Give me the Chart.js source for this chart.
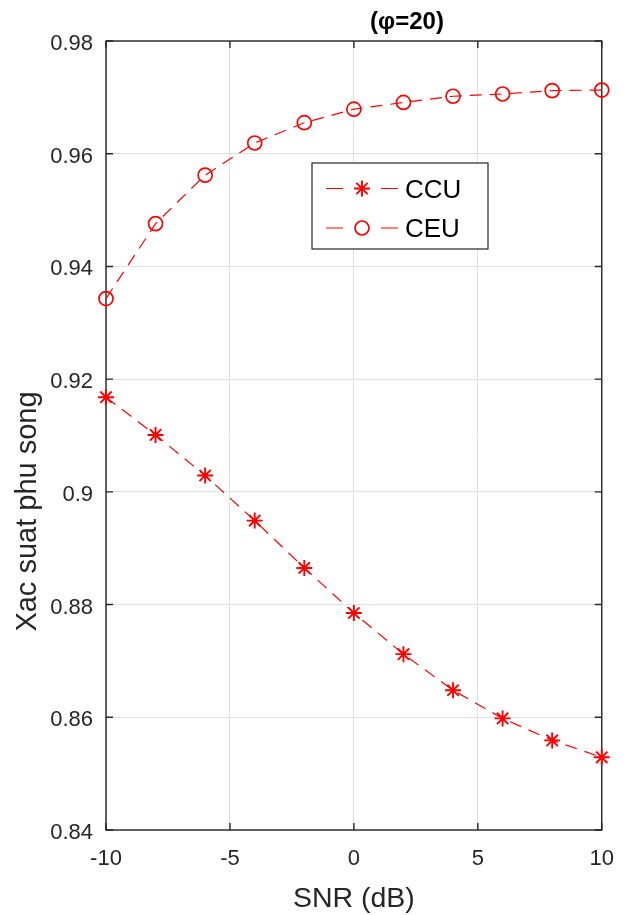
<!DOCTYPE html>
<html lang="vi">
<head>
<meta charset="UTF-8">
<title>Xac suat phu song</title>
<script src="https://cdn.jsdelivr.net/npm/chart.js@4.4.0/dist/chart.umd.min.js"></script>
<style>
  html, body { margin: 0; padding: 0; background: #fff; }
</style>
</head>
<body>
<canvas id="myChart" width="630" height="915"></canvas>

<script>
    // data
    var snr = [-10, -8, -6, -4, -2, 0, 2, 4, 6, 8, 10];
    var ccu = [0.9168, 0.9101, 0.9029, 0.8949, 0.8865, 0.8785, 0.8712, 0.8648, 0.8598, 0.8559, 0.8529];
    var ceu = [0.9343, 0.9476, 0.9562, 0.9619, 0.9655, 0.9679, 0.9691, 0.9702, 0.9706, 0.9712, 0.9713];
    var xTicks = [-10, -5, 0, 5, 10];
    var yTicks = [0.84, 0.86, 0.88, 0.90, 0.92, 0.94, 0.96, 0.98];
    var seriesNames = ['CCU', 'CEU'];
    var titleText = '(\u03C6=20)';
    var xTitle = 'SNR (dB)';
    var yTitle = 'Xac suat phu song';

    var FONT = '"Liberation Sans", Arial, sans-serif';
    var AXIS = '#262626';
    var RED = '#ff0000';

    function pts(ys) {
        return snr.map(function (x, i) { return { x: x, y: ys[i] }; });
    }

    function drawMarker(ctx, style, x, y, r) {
        ctx.beginPath();
        if (style === 'circle') {
            ctx.arc(x, y, r, 0, Math.PI * 2);
        } else {
            for (var k = 0; k < 4; k++) {
                var a = k * Math.PI / 4;
                ctx.moveTo(x - r * Math.cos(a), y - r * Math.sin(a));
                ctx.lineTo(x + r * Math.cos(a), y + r * Math.sin(a));
            }
        }
        ctx.stroke();
    }

    var matlabLook = {
        id: 'matlabLook',
        beforeDatasetsDraw: function (chart) {
            var ctx = chart.ctx, a = chart.chartArea;
            var xs = chart.scales.x, ys = chart.scales.y;
            ctx.save();
            ctx.strokeStyle = AXIS;
            ctx.lineWidth = 1.4;
            ctx.strokeRect(a.left, a.top, a.right - a.left, a.bottom - a.top);
            ctx.beginPath();
            xTicks.forEach(function (v) {
                var px = xs.getPixelForValue(v);
                ctx.moveTo(px, a.bottom); ctx.lineTo(px, a.bottom - 7);
                ctx.moveTo(px, a.top); ctx.lineTo(px, a.top + 7);
            });
            yTicks.forEach(function (v) {
                var py = ys.getPixelForValue(v);
                ctx.moveTo(a.left, py); ctx.lineTo(a.left + 7, py);
                ctx.moveTo(a.right, py); ctx.lineTo(a.right - 7, py);
            });
            ctx.stroke();
            ctx.restore();
        },
        afterDraw: function (chart) {
            var ctx = chart.ctx, a = chart.chartArea;
            ctx.save();

            // title
            ctx.fillStyle = '#000';
            ctx.font = 'bold 24px ' + FONT;
            ctx.textAlign = 'center';
            ctx.textBaseline = 'middle';
            ctx.fillText(titleText, 407, 22);

            // axis titles
            ctx.fillStyle = AXIS;
            ctx.font = '28.5px ' + FONT;
            ctx.textBaseline = 'alphabetic';
            ctx.fillText(xTitle, (a.left + a.right) / 2, 907);

            ctx.save();
            ctx.translate(35.5, 511.5);
            ctx.rotate(-Math.PI / 2);
            ctx.font = '29px ' + FONT;
            ctx.fillText(yTitle, 0, 0);
            ctx.restore();

            // legend
            var lx = 312, ly = 163, lw = 176, lh = 86;
            ctx.fillStyle = '#fff';
            ctx.fillRect(lx, ly, lw, lh);
            ctx.strokeStyle = AXIS;
            ctx.lineWidth = 1.2;
            ctx.strokeRect(lx, ly, lw, lh);

            var rows = [188.5, 228];
            chart.data.datasets.forEach(function (ds, i) {
                var y = rows[i];
                ctx.strokeStyle = ds.borderColor;
                ctx.lineWidth = ds.borderWidth;
                ctx.setLineDash([17, 38]);
                ctx.beginPath();
                ctx.moveTo(326, y); ctx.lineTo(398, y);
                ctx.stroke();
                ctx.setLineDash([]);
                ctx.lineWidth = ds.pointBorderWidth;
                drawMarker(ctx, ds.pointStyle, 362, y, ds.pointRadius);
                ctx.fillStyle = '#000';
                ctx.font = '26px ' + FONT;
                ctx.textAlign = 'left';
                ctx.textBaseline = 'middle';
                ctx.fillText(ds.label, 405, y + 2);
            });
            ctx.restore();
        }
    };

    var ctx = document.getElementById('myChart').getContext('2d');
    var chart = new Chart(ctx, {
        type: 'line',
        data: {
            datasets: [{
                label: seriesNames[0],
                data: pts(ccu),
                borderColor: RED,
                backgroundColor: 'transparent',
                borderWidth: 1.2,
                borderDash: [12, 8],
                pointStyle: 'star',
                pointRadius: 8,
                pointBorderWidth: 1.9,
                pointBorderColor: RED,
                pointBackgroundColor: 'transparent',
                tension: 0,
                clip: false
            }, {
                label: seriesNames[1],
                data: pts(ceu),
                borderColor: RED,
                backgroundColor: 'transparent',
                borderWidth: 1.2,
                borderDash: [12, 8],
                pointStyle: 'circle',
                pointRadius: 7,
                pointBorderWidth: 1.7,
                pointBorderColor: RED,
                pointBackgroundColor: 'transparent',
                tension: 0,
                clip: false
            }]
        },
        options: {
            responsive: false,
            animation: false,
            layout: { padding: { top: 41, right: 23, left: 0, bottom: 0 } },
            plugins: {
                legend: { display: false },
                title: { display: false },
                tooltip: { enabled: false }
            },
            scales: {
                x: {
                    type: 'linear',
                    min: -10,
                    max: 10,
                    afterFit: function (s) { s.height = 85; },
                    afterBuildTicks: function (s) { s.ticks = xTicks.map(function (v) { return { value: v }; }); },
                    grid: { color: '#e0e0e0', lineWidth: 1, drawTicks: false },
                    border: { display: false },
                    ticks: {
                        padding: 16,
                        color: AXIS,
                        font: { family: FONT, size: 22 },
                        maxRotation: 0
                    }
                },
                y: {
                    type: 'linear',
                    min: 0.84,
                    max: 0.98,
                    afterFit: function (s) { s.width = 106; },
                    afterBuildTicks: function (s) { s.ticks = yTicks.map(function (v) { return { value: v }; }); },
                    grid: { color: '#e0e0e0', lineWidth: 1, drawTicks: false },
                    border: { display: false },
                    ticks: {
                        padding: 13,
                        labelOffset: 3,
                        color: AXIS,
                        font: { family: FONT, size: 22 },
                        callback: function (v) { return String(parseFloat(Number(v).toFixed(2))); }
                    }
                }
            }
        },
        plugins: [matlabLook]
    });
</script>
</body>
</html>
